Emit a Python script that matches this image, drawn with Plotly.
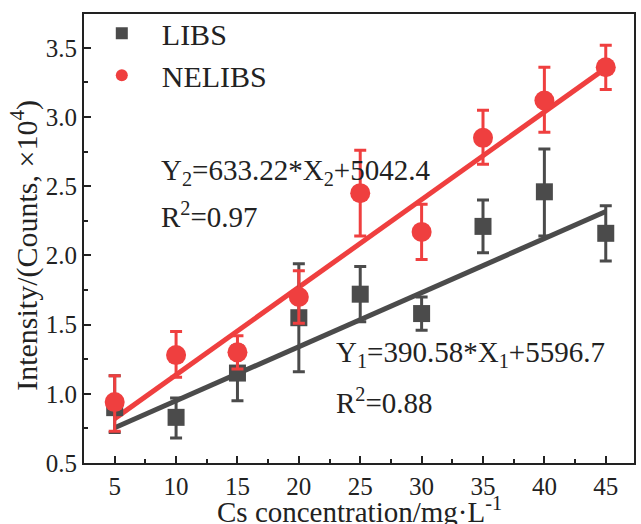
import plotly.graph_objects as go

conc = [5, 10, 15, 20, 25, 30, 35, 40, 45]
libs = [0.90, 0.83, 1.15, 1.55, 1.72, 1.58, 2.21, 2.46, 2.16]
libs_err_plus = [0.23, 0.14, 0.20, 0.39, 0.20, 0.12, 0.19, 0.31, 0.20]
libs_err_minus = [0.18, 0.15, 0.20, 0.39, 0.20, 0.12, 0.19, 0.32, 0.20]
nelibs = [0.94, 1.28, 1.30, 1.70, 2.45, 2.17, 2.85, 3.12, 3.36]
nelibs_err_plus = [0.19, 0.17, 0.12, 0.19, 0.31, 0.20, 0.20, 0.24, 0.16]
nelibs_err_minus = [0.21, 0.16, 0.12, 0.19, 0.31, 0.20, 0.19, 0.23, 0.16]

# linear fits (counts), displayed in units of 1e4
fit1_slope, fit1_intercept = 390.58, 5596.7
fit2_slope, fit2_intercept = 633.22, 5042.4
fit_x = [5, 45]

gray = "#4b4b4b"
red = "#ef3f3f"
font = "Liberation Serif"

fit1_y = [(fit1_slope * x + fit1_intercept) / 1e4 for x in fit_x]
fit2_y = [(fit2_slope * x + fit2_intercept) / 1e4 for x in fit_x]

fig = go.Figure()
fig.add_trace(go.Scatter(x=fit_x, y=fit1_y, mode="lines", line=dict(color=gray, width=5),
                         showlegend=False, hoverinfo="skip"))
fig.add_trace(go.Scatter(x=fit_x, y=fit2_y, mode="lines", line=dict(color=red, width=5),
                         showlegend=False, hoverinfo="skip"))
fig.add_trace(go.Scatter(
    x=conc, y=libs, mode="markers", name="LIBS",
    marker=dict(symbol="square", size=17, color=gray),
    error_y=dict(type="data", symmetric=False, array=libs_err_plus, arrayminus=libs_err_minus,
                 color=gray, thickness=3, width=6)))
fig.add_trace(go.Scatter(
    x=conc, y=nelibs, mode="markers", name="NELIBS",
    marker=dict(symbol="circle", size=20, color=red),
    error_y=dict(type="data", symmetric=False, array=nelibs_err_plus, arrayminus=nelibs_err_minus,
                 color=red, thickness=3, width=6)))

tickfont = dict(family=font, size=25, color="#222")
fig.update_xaxes(range=[2.5, 47.3], tickvals=[5, 10, 15, 20, 25, 30, 35, 40, 45],
                 ticks="inside", ticklen=7, tickwidth=2, tickcolor="#222",
                 minor=dict(ticks="inside", ticklen=4, tickwidth=2, tickcolor="#222", dtick=2.5, tick0=0),
                 showline=True, linecolor="#222", linewidth=2, mirror=True,
                 showgrid=False, zeroline=False, tickfont=tickfont)
fig.update_yaxes(range=[0.5, 3.745], tickvals=[0.5, 1.0, 1.5, 2.0, 2.5, 3.0, 3.5],
                 ticktext=["0.5", "1.0", "1.5", "2.0", "2.5", "3.0", "3.5"],
                 ticks="inside", ticklen=7, tickwidth=2, tickcolor="#222",
                 minor=dict(ticks="inside", ticklen=4, tickwidth=2, tickcolor="#222", dtick=0.25, tick0=0),
                 showline=True, linecolor="#222", linewidth=2, mirror=True,
                 showgrid=False, zeroline=False, tickfont=tickfont)

ann_font = dict(family=font, size=29, color="#222")
annotations = [
    dict(text="Y<sub>2</sub>=633.22*X<sub>2</sub>+5042.4", x=8.6, y=2.6, xanchor="left", yanchor="middle"),
    dict(text="R<sup>2</sup>=0.97", x=8.6, y=2.29, xanchor="left", yanchor="middle"),
    dict(text="Y<sub>1</sub>=390.58*X<sub>1</sub>+5596.7", x=22.9, y=1.29, xanchor="left", yanchor="middle"),
    dict(text="R<sup>2</sup>=0.88", x=22.9, y=0.95, xanchor="left", yanchor="middle"),
]
for a in annotations:
    a.update(xref="x", yref="y", showarrow=False, font=ann_font)

annotations.append(dict(text="Intensity/(Counts, ×10<sup>4</sup>)", xref="paper", yref="paper",
                        x=-0.108, y=0.485, textangle=-90, showarrow=False,
                        xanchor="center", yanchor="middle",
                        font=dict(family=font, size=30, color="#222")))
annotations.append(dict(text="Cs concentration/mg·L<sup>-1</sup>", xref="paper", yref="paper",
                        x=0.5, y=-0.06, showarrow=False, xanchor="center", yanchor="top",
                        font=dict(family=font, size=29, color="#222")))

fig.update_layout(
    width=641, height=524,
    margin=dict(l=84, r=5, t=14, b=61),
    plot_bgcolor="white", paper_bgcolor="white",
    annotations=annotations,
    legend=dict(x=-0.004, y=1.015, xanchor="left", yanchor="top",
                font=dict(family=font, size=30, color="#222"),
                bgcolor="rgba(0,0,0,0)", tracegroupgap=0, itemsizing="constant",
                itemwidth=70),
)

fig.write_html("out.html")
